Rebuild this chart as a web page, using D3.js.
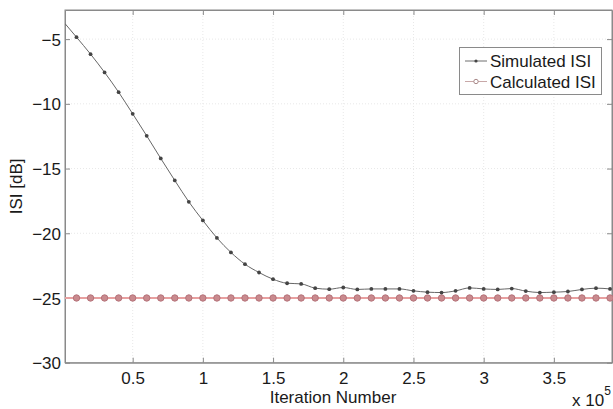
<!DOCTYPE html>
<html>
<head>
<meta charset="utf-8">
<script src="https://cdn.jsdelivr.net/npm/d3@7"></script>
<style>
  html, body { margin: 0; padding: 0; background: #fff; }
  svg { display: block; font-family: "Liberation Sans", Arial, sans-serif; }
</style>
</head>
<body>
<svg id="chart" width="613" height="409"></svg>
<script>
// ---- data (iteration number in units of 1e5) ----
const simIterations = [0.018, 0.1, 0.2, 0.3, 0.4, 0.5, 0.6, 0.7, 0.8, 0.9, 1.0, 1.1, 1.2, 1.3, 1.4, 1.5, 1.6, 1.7, 1.8, 1.9, 2.0,
  2.1, 2.2, 2.3, 2.4, 2.5, 2.6, 2.7, 2.8, 2.9, 3.0, 3.1, 3.2, 3.3, 3.4, 3.5, 3.6, 3.7, 3.8, 3.9];
const simulatedISI = [-3.8, -4.85, -6.16, -7.57, -9.10, -10.77, -12.47, -14.22, -15.92, -17.57, -19.01, -20.36, -21.48, -22.39,
  -23.03, -23.55, -23.86, -23.91, -24.24, -24.32, -24.19, -24.34, -24.30, -24.30, -24.30, -24.45, -24.55, -24.58, -24.45,
  -24.22, -24.30, -24.34, -24.27, -24.47, -24.58, -24.55, -24.50, -24.34, -24.24, -24.30];
const simMarkerFrom = 1; // markers drawn from index 1 onward
const calcIterations = [0.018, 0.1, 0.2, 0.3, 0.4, 0.5, 0.6, 0.7, 0.8, 0.9, 1.0, 1.1, 1.2, 1.3, 1.4, 1.5, 1.6, 1.7, 1.8, 1.9, 2.0,
  2.1, 2.2, 2.3, 2.4, 2.5, 2.6, 2.7, 2.8, 2.9, 3.0, 3.1, 3.2, 3.3, 3.4, 3.5, 3.6, 3.7, 3.8, 3.9];
const calculatedISI = calcIterations.map(() => -25);
const xTicks = [0.5, 1, 1.5, 2, 2.5, 3, 3.5];
const yTicks = [-5, -10, -15, -20, -25, -30];
const seriesNames = ["Simulated ISI", "Calculated ISI"];
const xLabel = "Iteration Number";
const yLabel = "ISI [dB]";

// ---- layout ----
const L = 65, R = 612, T = 10, B = 362.7;
const svg = d3.select("#chart");
const x = d3.scaleLinear().domain([0.018, 3.914]).range([L, R]);
const y = d3.scaleLinear().domain([-30, -2.75]).range([B, T]);

const fmtX = d => String(d);
const fmtY = d => (d < 0 ? "\u2212" + Math.abs(d) : String(d));

// grid
const grid = svg.append("g");
grid.selectAll("line.gx").data(xTicks).join("line")
  .attr("x1", d => x(d)).attr("x2", d => x(d)).attr("y1", T).attr("y2", B)
  .attr("stroke", "#e8e8e8").attr("stroke-width", 1).attr("stroke-dasharray", "1,2");
grid.selectAll("line.gy").data(yTicks.filter(d => d > -30)).join("line")
  .attr("x1", L).attr("x2", R).attr("y1", d => y(d)).attr("y2", d => y(d))
  .attr("stroke", "#e8e8e8").attr("stroke-width", 1).attr("stroke-dasharray", "1,2");

// axes (ticks inward, box with ticks on all sides)
const axisColor = "#8a8a8a";
const gB = svg.append("g").attr("transform", `translate(0,${B})`)
  .call(d3.axisBottom(x).tickValues(xTicks).tickFormat(fmtX).tickSizeInner(-5).tickSizeOuter(0).tickPadding(9));
const gT = svg.append("g").attr("transform", `translate(0,${T})`)
  .call(d3.axisTop(x).tickValues(xTicks).tickFormat("").tickSizeInner(-5).tickSizeOuter(0));
const gL = svg.append("g").attr("transform", `translate(${L},0)`)
  .call(d3.axisLeft(y).tickValues(yTicks).tickFormat(fmtY).tickSizeInner(-5).tickSizeOuter(0).tickPadding(4));
const gR = svg.append("g").attr("transform", `translate(${R},0)`)
  .call(d3.axisRight(y).tickValues(yTicks).tickFormat("").tickSizeInner(-5).tickSizeOuter(0));
[gB, gT, gL, gR].forEach(g => {
  g.selectAll(".domain").attr("stroke", axisColor);
  g.selectAll(".tick line").attr("stroke", axisColor);
  g.selectAll(".tick text").attr("fill", "#1a1a1a").attr("font-size", 17);
});
gL.selectAll(".tick text").attr("dy", "0.36em");
gB.selectAll(".tick text").attr("dy", "0.71em");
svg.append("rect").attr("x", L).attr("y", T).attr("width", R - L).attr("height", B - T)
  .attr("fill", "none").attr("stroke", axisColor).attr("stroke-width", 1);

// clip
svg.append("clipPath").attr("id", "clip").append("rect")
  .attr("x", L).attr("y", T).attr("width", R - L + 2).attr("height", B - T);
const plot = svg.append("g").attr("clip-path", "url(#clip)");

// calculated series
const calcData = calcIterations.map((d, i) => [d, calculatedISI[i]]);
const line = d3.line().x(d => x(d[0])).y(d => y(d[1]));
plot.append("path").datum(calcData).attr("d", line)
  .attr("fill", "none").attr("stroke", "#e8a0a0").attr("stroke-width", 1.8);
plot.selectAll("circle.calc").data(calcData.slice(1)).join("circle")
  .attr("cx", d => x(d[0])).attr("cy", d => y(d[1])).attr("r", 3.2)
  .attr("fill", "#c98a8e").attr("stroke", "#b5737a").attr("stroke-width", 1);

// simulated series
const simData = simIterations.map((d, i) => [d, simulatedISI[i]]);
plot.append("path").datum(simData).attr("d", line.curve(d3.curveMonotoneX))
  .attr("fill", "none").attr("stroke", "#666").attr("stroke-width", 1);
plot.selectAll("circle.sim").data(simData.slice(simMarkerFrom)).join("circle")
  .attr("cx", d => x(d[0])).attr("cy", d => y(d[1])).attr("r", 1.9)
  .attr("fill", "#444");

// axis labels
svg.append("text").attr("x", 333).attr("y", 403).attr("text-anchor", "middle")
  .attr("font-size", 17).attr("fill", "#1a1a1a").text(xLabel);
svg.append("text").attr("transform", `translate(22,${(T + B) / 2}) rotate(-90)`)
  .attr("text-anchor", "middle").attr("font-size", 17).attr("fill", "#1a1a1a").text(yLabel);
const ex = svg.append("text").attr("x", 572).attr("y", 406).attr("font-size", 17).attr("fill", "#1a1a1a");
ex.append("tspan").text("x 10");
ex.append("tspan").attr("font-size", 12).attr("dy", -11).text("5");

// legend
const lg = svg.append("g");
lg.append("rect").attr("x", 459.5).attr("y", 47.5).attr("width", 142).attr("height", 47)
  .attr("fill", "#fff").attr("stroke", "#8a8a8a").attr("stroke-width", 1);
const legendRows = [
  { name: seriesNames[0], y: 61, stroke: "#6e6e6e", marker: "dot" },
  { name: seriesNames[1], y: 81.5, stroke: "#c8a8a8", marker: "ring" }
];
legendRows.forEach(r => {
  lg.append("line").attr("x1", 465).attr("x2", 487).attr("y1", r.y).attr("y2", r.y)
    .attr("stroke", r.stroke).attr("stroke-width", 1);
  if (r.marker === "dot") {
    lg.append("circle").attr("cx", 476).attr("cy", r.y).attr("r", 1.6).attr("fill", "#444");
  } else {
    lg.append("circle").attr("cx", 476).attr("cy", r.y).attr("r", 2.2).attr("fill", "#fff")
      .attr("stroke", "#a88888").attr("stroke-width", 1);
  }
  lg.append("text").attr("x", 490).attr("y", r.y + 6).attr("font-size", 17).attr("fill", "#1a1a1a").text(r.name);
});
</script>
</body>
</html>
